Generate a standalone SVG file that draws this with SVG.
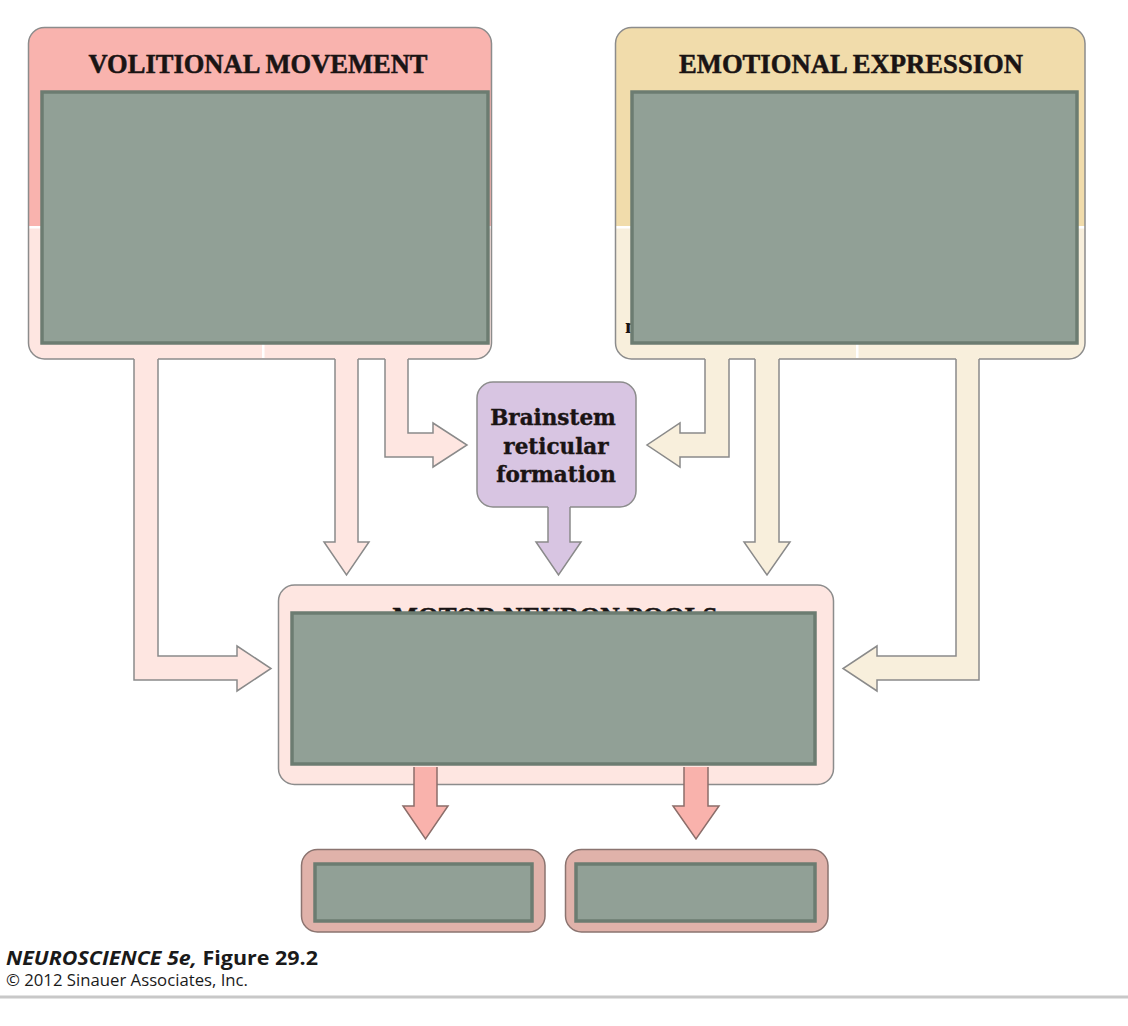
<svg xmlns="http://www.w3.org/2000/svg" width="1128" height="1026" viewBox="0 0 1128 1026">
<style>
.title{font-family:"Liberation Serif","Times New Roman",serif;font-weight:700;font-size:26.5px;fill:#1a1414;stroke:#1a1414;stroke-width:0.5;text-anchor:middle}
.bs{font-family:"DejaVu Serif","Liberation Serif",serif;font-weight:700;font-size:21.5px;fill:#1a1414;stroke:#1a1414;stroke-width:0.4;text-anchor:middle}
.outline{stroke:#8c8c8c;stroke-width:1.5;fill:none}
.mask{fill:#91a096;stroke:#6c7c71;stroke-width:3.5}
.pinkL{fill:#fee6e1}
.tanL{fill:#f8efdc}
.arrowStroke{fill:none;stroke:#8a8a8a;stroke-width:1.5;stroke-linejoin:miter}
.salmon{fill:#f9b2ac;stroke:#8c6e6a;stroke-width:1.5}
.out{fill:#e0b2aa;stroke:#8b7470;stroke-width:1.5}
.foot{font-family:"Open Sans","Liberation Sans",sans-serif;fill:#1a1a1a}
</style>
<rect width="1128" height="1026" fill="#ffffff"/>

<g id="volitional-movement">
  <rect x="28.5" y="27.5" width="463" height="331.5" rx="16" class="pinkL"/>
  <path d="M28.5,226 V43.5 A16,16 0 0 1 44.5,27.5 H475.5 A16,16 0 0 1 491.5,43.5 V226 Z" fill="#f9b3ae"/>
  <rect x="28.5" y="226" width="463" height="2.5" fill="#ffffff"/>
  <rect x="262" y="344" width="2.5" height="14" fill="#ffffff"/>
  <rect x="28.5" y="27.5" width="463" height="331.5" rx="16" class="outline"/>
  <text x="258" y="73" class="title" textLength="339" lengthAdjust="spacingAndGlyphs">VOLITIONAL MOVEMENT</text>
  <rect x="42" y="92" width="446" height="251" class="mask"/>
</g>

<g id="emotional-expression">
  <rect x="615.5" y="27.5" width="469.5" height="331.5" rx="16" class="tanL"/>
  <path d="M615.5,226 V43.5 A16,16 0 0 1 631.5,27.5 H1069 A16,16 0 0 1 1085,43.5 V226 Z" fill="#f1dcab"/>
  <rect x="615.5" y="226" width="469.5" height="2.5" fill="#ffffff"/>
  <rect x="856" y="344" width="2.5" height="14" fill="#ffffff"/>
  <rect x="615.5" y="27.5" width="469.5" height="331.5" rx="16" class="outline"/>
  <text x="851" y="73" class="title" textLength="344" lengthAdjust="spacingAndGlyphs">EMOTIONAL EXPRESSION</text>
  <text x="625" y="333" font-family="Liberation Serif, serif" font-weight="700" font-size="22" fill="#1a1414">m</text>
  <rect x="632" y="92" width="445" height="251" class="mask"/>
</g>

<g id="brainstem-reticular-formation">
  <rect x="477" y="382" width="159" height="125" rx="16" fill="#d8c5e2" stroke="#8c8c8c" stroke-width="1.5"/>
  <text x="553" y="425" class="bs">Brainstem</text>
  <text x="556" y="454" class="bs">reticular</text>
  <text x="556" y="482" class="bs">formation</text>
</g>

<g id="motor-neuron-pools">
  <rect x="278.5" y="585" width="555" height="199.5" rx="16" fill="#fee6e1" stroke="#8c8c8c" stroke-width="1.5"/>
  <text x="555" y="626" class="title" textLength="325" lengthAdjust="spacingAndGlyphs">MOTOR NEURON POOLS</text>
  <rect x="292" y="613" width="523" height="151" class="mask"/>
</g>

<g id="output-left">
  <rect x="301.5" y="849.5" width="243.5" height="82.5" rx="16" class="out"/>
  <rect x="315" y="864" width="217" height="57" class="mask" stroke-width="4"/>
</g>

<g id="output-right">
  <rect x="565.5" y="849.5" width="262.5" height="82.5" rx="16" class="out"/>
  <rect x="576" y="864" width="239" height="57" class="mask" stroke-width="4"/>
</g>

<g id="connectors">
  <path class="pinkL" d="M134,354 V680 H237 V691 L271,668.5 L237,646 V656 H158 V354 Z"/>
  <path class="arrowStroke" d="M134,359 V680 H237 V691 L271,668.5 L237,646 V656 H158 V359"/>
  <path class="pinkL" d="M335,354 V542 H324 L346.5,575 L369,542 H358 V354 Z"/>
  <path class="arrowStroke" d="M335,359 V542 H324 L346.5,575 L369,542 H358 V359"/>
  <path class="pinkL" d="M385,354 V457 H433 V467 L467,445 L433,423 V433 H408 V354 Z"/>
  <path class="arrowStroke" d="M385,359 V457 H433 V467 L467,445 L433,423 V433 H408 V359"/>

  <path class="tanL" d="M729,354 V457 H680 V467 L647,445 L680,423 V433 H705 V354 Z"/>
  <path class="arrowStroke" d="M729,359 V457 H680 V467 L647,445 L680,423 V433 H705 V359"/>
  <path class="tanL" d="M755,354 V542 H744 L767,575 L790,542 H779 V354 Z"/>
  <path class="arrowStroke" d="M755,359 V542 H744 L767,575 L790,542 H779 V359"/>
  <path class="tanL" d="M979,354 V680 H877 V691 L843,668.5 L877,646 V656 H956 V354 Z"/>
  <path class="arrowStroke" d="M979,359 V680 H877 V691 L843,668.5 L877,646 V656 H956 V359"/>

  <path fill="#d8c5e2" d="M548,503 V542 H536 L558.5,575 L581,542 H570 V503 Z"/>
  <path class="arrowStroke" d="M548,507 V542 H536 L558.5,575 L581,542 H570 V507"/>

  <path class="salmon" d="M414,767 V806 H403 L425.5,839 L448,806 H437 V767"/>
  <path class="salmon" d="M684,767 V806 H673 L696,839 L719,806 H708 V767"/>
</g>

<g id="footer">
  <text x="6" y="965" class="foot" font-size="19" textLength="312" lengthAdjust="spacingAndGlyphs"><tspan font-weight="700" font-style="italic">NEUROSCIENCE 5e,</tspan><tspan font-weight="700"> Figure 29.2</tspan></text>
  <text x="6" y="986" class="foot" font-size="15.5" textLength="242" lengthAdjust="spacingAndGlyphs">© 2012 Sinauer Associates, Inc.</text>
  <rect x="0" y="995.5" width="1128" height="3" fill="#c8c8c8"/>
</g>
</svg>
